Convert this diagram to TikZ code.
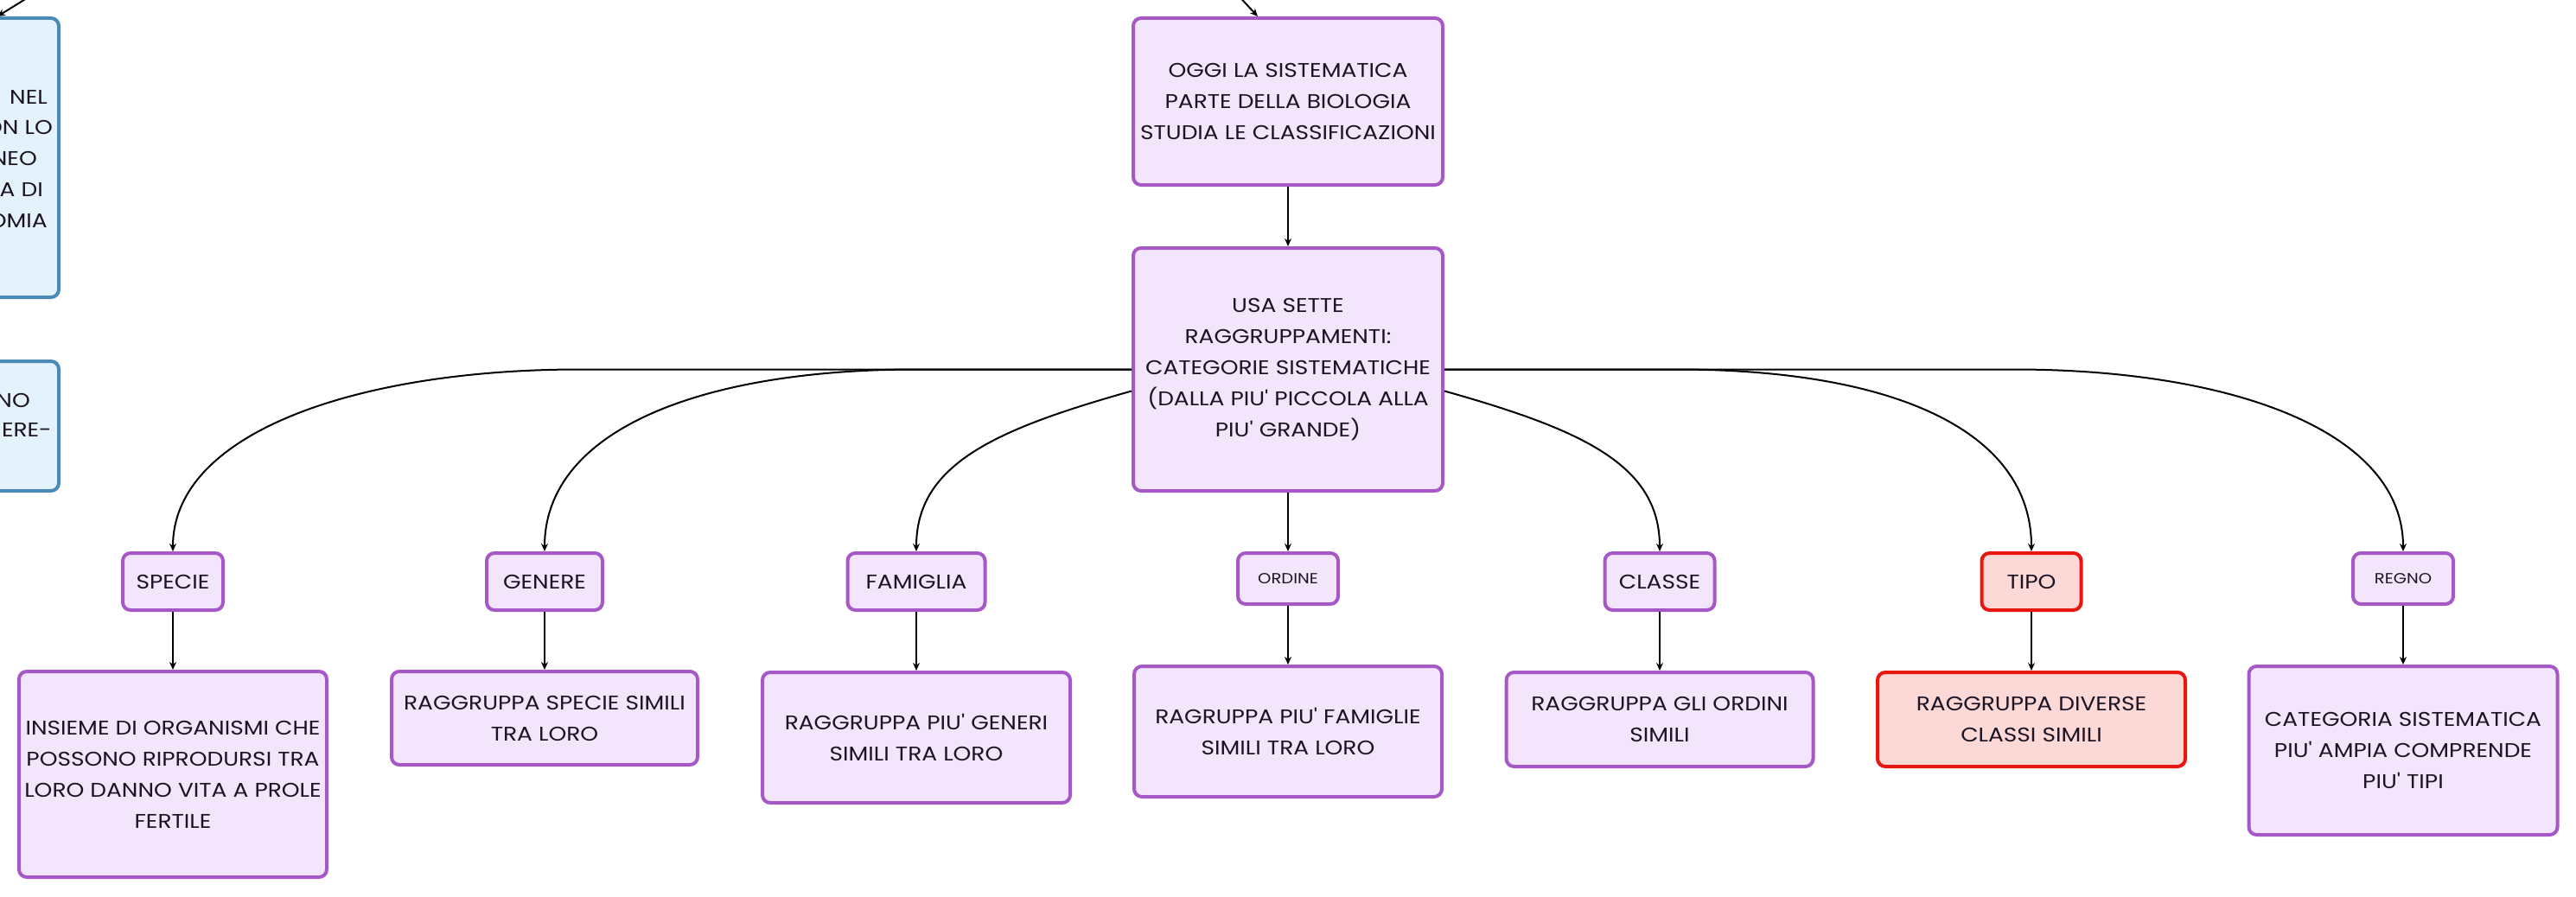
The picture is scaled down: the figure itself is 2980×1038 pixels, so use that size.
\documentclass[tikz,border=0pt]{standalone}
\usepackage{fontspec}
\setmainfont{Poppins}[Ligatures=TeXOff, FakeStretch=1.15]
\usetikzlibrary{arrows.meta,calc}
\definecolor{pborder}{RGB}{166,89,198}
\definecolor{pfill}{RGB}{243,229,252}
\definecolor{rborder}{RGB}{232,23,15}
\definecolor{rfill}{RGB}{252,216,215}
\definecolor{bborder}{RGB}{74,138,181}
\definecolor{bfill}{RGB}{228,242,252}
\definecolor{txt}{RGB}{28,20,36}
\begin{document}
\begin{tikzpicture}[x=1pt,y=-1pt,
  box/.style={draw=pborder, fill=pfill, line width=4pt, rounded corners=9pt, align=center,
    text=txt, font=\fontsize{23}{36}\selectfont, inner sep=0pt},
  redbox/.style={box, draw=rborder, fill=rfill},
  bluebox/.style={box, draw=bborder, fill=bfill},
  smalltext/.style={font=\fontsize{17}{26}\selectfont},
  arr/.style={-{Stealth[length=9pt,width=8pt]}, line width=2pt, black},
  frag/.style={anchor=east, inner sep=0pt, text=txt, font=\fontsize{23}{36}\selectfont}
]
\useasboundingbox (0,0) rectangle (2980,1038);

% left blue boxes (cut by the page edge)
\node[bluebox, minimum width=366pt, minimum height=323pt] (blueA) at (-115,182.5) {};
\node[bluebox, minimum width=366pt, minimum height=150pt] (blueB) at (-115,493) {};
\node[frag] (fa1) at (55,112) {NEL};
\node[frag] (fa2) at (61,147) {ON LO};
\node[frag] (fa3) at (43,183) {NEO};
\node[frag] (fa4) at (50,219) {A DI};
\node[frag] (fa5) at (55,255) {OMIA};
\node[frag] (fb1) at (35,463) {NO};
\node[frag] (fb2) at (60,497) {IERE-};

% centre column
\node[box, minimum width=358pt, minimum height=193pt] (top) at (1490,117.5)
  {OGGI LA SISTEMATICA\\PARTE DELLA BIOLOGIA\\STUDIA LE CLASSIFICAZIONI};
\node[box, minimum width=358pt, minimum height=281pt] (main) at (1490,427.5)
  {USA SETTE\\RAGGRUPPAMENTI:\\CATEGORIE SISTEMATICHE\\(DALLA PIU' PICCOLA ALLA\\PIU' GRANDE)};

% categories
\node[box, minimum width=116pt, minimum height=66pt] (specie) at (200,673) {SPECIE};
\node[box, minimum width=134pt, minimum height=66pt] (genere) at (630,673) {GENERE};
\node[box, minimum width=159pt, minimum height=66pt] (famiglia) at (1060,673) {FAMIGLIA};
\node[box, smalltext, minimum width=116pt, minimum height=59pt] (ordine) at (1490,669.5) {ORDINE};
\node[box, minimum width=127pt, minimum height=66pt] (classe) at (1920,673) {CLASSE};
\node[redbox, minimum width=115pt, minimum height=66pt] (tipo) at (2350,673) {TIPO};
\node[box, smalltext, minimum width=116pt, minimum height=59pt] (regno) at (2780,669.5) {REGNO};

% descriptions
\node[box, minimum width=356pt, minimum height=238pt] (specied) at (200,896)
  {INSIEME DI ORGANISMI CHE\\POSSONO RIPRODURSI TRA\\LORO DANNO VITA A PROLE\\FERTILE};
\node[box, minimum width=354pt, minimum height=108pt] (genered) at (630,831)
  {RAGGRUPPA SPECIE SIMILI\\TRA LORO};
\node[box, minimum width=356pt, minimum height=151pt] (famigliad) at (1060,853.5)
  {RAGGRUPPA PIU' GENERI\\SIMILI TRA LORO};
\node[box, minimum width=356pt, minimum height=151pt] (ordined) at (1490,846.5)
  {RAGRUPPA PIU' FAMIGLIE\\SIMILI TRA LORO};
\node[box, minimum width=355pt, minimum height=109pt] (classed) at (1920,832.5)
  {RAGGRUPPA GLI ORDINI\\SIMILI};
\node[redbox, minimum width=356pt, minimum height=109pt] (tipod) at (2350,832.5)
  {RAGGRUPPA DIVERSE\\CLASSI SIMILI};
\node[box, minimum width=357pt, minimum height=195pt] (regnod) at (2780,868.5)
  {CATEGORIA SISTEMATICA\\PIU' AMPIA COMPRENDE\\PIU' TIPI};

% incoming connectors from outside the page
\coordinate (topsrc) at (1400,-40);
\coordinate (leftsrc) at (60,-20);
\draw[arr] (topsrc) -- ([xshift=-35pt]top.north);
\draw[arr] (leftsrc) -- ([xshift=112pt]blueA.north);

% vertical connectors
\draw[arr] (top.south) -- (main.north);
\draw[arr] (main.south) -- (ordine.north);
\foreach \a/\b in {specie/specied, genere/genered, famiglia/famigliad, ordine/ordined,
                   classe/classed, tipo/tipod, regno/regnod}
  \draw[arr] (\a.south) -- (\b.north);

% curved connectors
\draw[arr] (main.west) -- ($(specie.north |- main.west)+(470,0)$)
  .. controls +(-250,0) and +(0,-140) .. (specie.north);
\draw[arr] (main.west) -- ($(genere.north |- main.west)+(430,0)$)
  .. controls +(-250,0) and +(0,-140) .. (genere.north);
\draw[arr] ([yshift=-25pt]main.west) .. controls +(-160,45) and +(0,-100) .. (famiglia.north);
\draw[arr] ([yshift=-25pt]main.east) .. controls +(160,45) and +(0,-100) .. (classe.north);
\draw[arr] (main.east) -- ($(tipo.north |- main.east)+(-410,0)$)
  .. controls +(250,0) and +(0,-140) .. (tipo.north);
\draw[arr] (main.east) -- ($(regno.north |- main.east)+(-450,0)$)
  .. controls +(250,0) and +(0,-140) .. (regno.north);
\end{tikzpicture}
\end{document}
